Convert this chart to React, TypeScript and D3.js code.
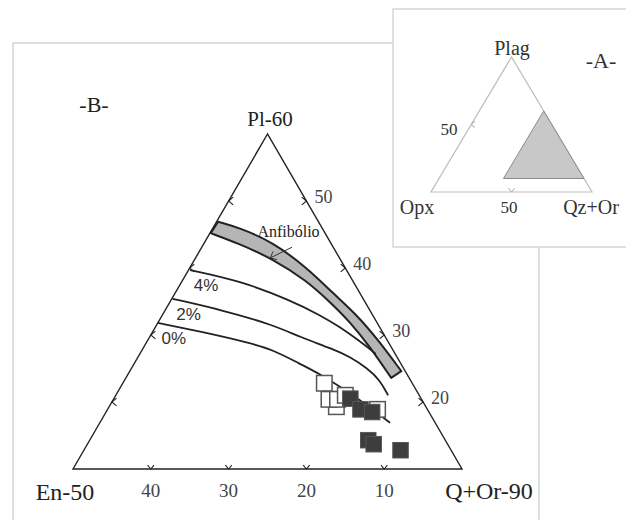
import * as d3 from 'd3';

// Ternary points as [Pl, En]; Q+Or = 100 - Pl - En
const bandUpper: [number, number][] = [
  [46.9, 12.9], [46.0, 10.6], [43.9, 7.4], [40.0, 4.9], [36.3, 3.5], [33.0, 2.0], [29.0, 1.1], [24.6, 0.5],
];
const bandLower: [number, number][] = [
  [45.2, 14.7], [43.6, 11.8], [41.3, 8.6], [38.1, 5.9], [34.9, 4.5], [31.9, 3.4], [28.2, 2.7], [23.6, 2.3],
];
const curve4: [number, number][] = [
  [39.7, 20.1], [38.1, 14.5], [35.2, 9.5], [33.0, 6.8], [31.2, 5.1], [29.1, 3.6], [27.2, 2.5],
];
const curve2: [number, number][] = [
  [35.4, 24.5], [33.7, 18.9], [31.5, 13.5], [29.7, 11.0], [27.9, 7.6], [26.7, 6.0], [25.1, 4.7], [23.3, 3.9], [21.0, 4.0],
];
const curve0: [number, number][] = [
  [31.8, 28.2], [30.3, 22.6], [28.8, 17.9], [27.8, 15.4], [25.7, 13.0], [24.2, 11.2], [22.1, 9.4], [20.3, 8.0], [18.7, 6.9], [16.9, 5.8],
];
const curveNames = ['4%', '2%', '0%'];
const openSamples: [number, number][] = [
  [19.3, 11.5], [22.8, 11.3], [20.4, 11.9], [20.4, 10.8], [21.0, 9.5], [18.9, 6.4],
];
const filledSamples: [number, number][] = [
  [20.5, 9.1], [18.9, 8.6], [18.5, 7.3], [14.3, 9.9], [13.7, 9.5], [12.8, 6.5],
];
const enTicks = [40, 30, 20, 10];
const plTicks = [50, 40, 30, 20];
const anfLabel: [number, number] = [45.4, 4.6];
const anfArrow: [number, number][] = [[43.1, 5.3], [41.5, 8.9]];

// inset: [Plag, Opx]
const insetField: [number, number][] = [[60, 0], [10, 50], [10, 0]];
const insetTicks: [number, number][] = [[50, 50], [0, 50]];

const serif = { fontFamily: "'Liberation Serif', 'Times New Roman', Times, serif" };
const sans = { fontFamily: "'Liberation Sans', Arial, Helvetica, sans-serif" };

const x = d3.scaleLinear().domain([0, 1]).range([73, 462]);
const y = d3.scaleLinear().domain([0, 1]).range([469, 134]);
const proj = ([pl, en]: [number, number]): [number, number] => {
  const t = (pl - 10) / 50;
  const e = en / 50;
  return [x(1 - e - t / 2), y(t)];
};

const xi = d3.scaleLinear().domain([0, 1]).range([431, 592]);
const yi = d3.scaleLinear().domain([0, 1]).range([192, 57]);
const projI = ([pl, en]: [number, number]): [number, number] => {
  const t = pl / 100;
  const e = en / 100;
  return [xi(1 - e - t / 2), yi(t)];
};

const chevron = (p: [number, number], dx: number, dy: number, len = 6) => {
  const a = (40 * Math.PI) / 180;
  const bx = -dx, by = -dy;
  const r = (ang: number) => [
    p[0] + len * (bx * Math.cos(ang) - by * Math.sin(ang)),
    p[1] + len * (bx * Math.sin(ang) + by * Math.cos(ang)),
  ];
  const a1 = r(a), a2 = r(-a);
  return `M${a1[0]},${a1[1]}L${p[0]},${p[1]}L${a2[0]},${a2[1]}`;
};

const smooth = d3.line<[number, number]>().curve(d3.curveBasis);

export default function App() {
  const upperPts = bandUpper.map(proj);
  const lowerPts = bandLower.map(proj).reverse();
  const bandPath = (smooth(upperPts) as string) + (smooth(lowerPts) as string).replace(/^M/, 'L') + 'Z';
  const curves = [curve4, curve2, curve0];
  const tri = [proj([60, 0]), proj([10, 50]), proj([10, 0])];
  const triI = [projI([100, 0]), projI([0, 100]), projI([0, 0])];
  const sq = 15.5;
  const anfL = proj(anfLabel);
  const arr = anfArrow.map(proj);
  const adx = arr[1][0] - arr[0][0], ady = arr[1][1] - arr[0][1];
  const alen = Math.hypot(adx, ady);

  return (
    <svg width={626} height={520} style={{ position: 'absolute', left: 0, top: 0, background: '#fff' }}>
      <rect x={13} y={43} width={526} height={520} fill="none" stroke="#d0d0d0" strokeWidth={1.3} />

      <text x={94} y={112} style={serif} fontSize={22} fill="#222" textAnchor="middle">-B-</text>

      {/* main triangle */}
      <path d={`M${tri.map((p) => p.join(',')).join('L')}Z`} fill="none" stroke="#222" strokeWidth={1.4} />

      {/* ticks */}
      {plTicks.map((v) => {
        const pl = proj([v, 60 - v]);
        const pr = proj([v, 0]);
        return (
          <g key={`t${v}`}>
            <path d={chevron(pl, -1, 0)} fill="none" stroke="#222" strokeWidth={1.1} />
            <path d={chevron(pr, 1, 0)} fill="none" stroke="#222" strokeWidth={1.1} />
            <text x={pr[0] + 8} y={pr[1] + 2} style={serif} fontSize={18} fill="#444">{v}</text>
          </g>
        );
      })}
      {enTicks.map((v) => {
        const p = proj([10, v]);
        return (
          <g key={`e${v}`}>
            <path d={chevron(p, 0, 1, 5)} fill="none" stroke="#222" strokeWidth={1.1} />
            <text x={p[0]} y={p[1] + 28} style={serif} fontSize={19} fill="#444" textAnchor="middle">{v}</text>
          </g>
        );
      })}

      {/* amphibole band */}
      <path d={bandPath} fill="#b5b5b5" stroke="#222" strokeWidth={2} strokeLinejoin="round" />

      {/* isopleths */}
      {curves.map((c, i) => {
        const s = proj(c[0]);
        return (
          <g key={curveNames[i]}>
            <path d={smooth(c.map(proj)) as string} fill="none" stroke="#222" strokeWidth={1.8} />
            <text x={s[0] + 16} y={s[1] + 21} style={sans} fontSize={17} fill="#333" textAnchor="middle">{curveNames[i]}</text>
          </g>
        );
      })}

      <text x={anfL[0]} y={anfL[1] + 5} style={serif} fontSize={16} fill="#222" textAnchor="middle">Anfibólio</text>
      <line x1={arr[0][0]} y1={arr[0][1]} x2={arr[1][0]} y2={arr[1][1]} stroke="#333" strokeWidth={1} />
      <path d={chevron(arr[1], adx / alen, ady / alen, 7)} fill="none" stroke="#333" strokeWidth={1} />

      {/* samples */}
      {openSamples.map((d, i) => {
        const [px, py] = proj(d);
        return <rect key={`o${i}`} x={px - sq / 2} y={py - sq / 2} width={sq} height={sq} fill="#fff" stroke="#555" strokeWidth={1.5} />;
      })}
      {filledSamples.map((d, i) => {
        const [px, py] = proj(d);
        return <rect key={`f${i}`} x={px - sq / 2} y={py - sq / 2} width={sq} height={sq} fill="#3d3d3d" stroke="#555" strokeWidth={1} />;
      })}

      <text x={270} y={126} style={serif} fontSize={21} fill="#222" textAnchor="middle">Pl-60</text>
      <text x={65} y={500} style={serif} fontSize={24} fill="#222" textAnchor="middle">En-50</text>
      <text x={489} y={499} style={serif} fontSize={24} fill="#222" textAnchor="middle">Q+Or-90</text>

      {/* inset -A- */}
      <rect x={393} y={9} width={260} height={238} fill="#fff" stroke="#d0d0d0" strokeWidth={1.3} />
      <path d={`M${triI.map((p) => p.join(',')).join('L')}Z`} fill="none" stroke="#bdbdbd" strokeWidth={1.2} />
      <path d={`M${insetField.map(projI).map((p) => p.join(',')).join('L')}Z`} fill="#c8c8c8" stroke="#8a8a8a" strokeWidth={1} />
      <path d={chevron(projI(insetTicks[0]), -1, 0, 5)} fill="none" stroke="#aaa" strokeWidth={1} />
      <path d={chevron(projI(insetTicks[1]), 0, 1, 5)} fill="none" stroke="#aaa" strokeWidth={1} />
      <text x={449} y={135} style={serif} fontSize={17} fill="#333" textAnchor="middle">50</text>
      <text x={509} y={213} style={serif} fontSize={17} fill="#333" textAnchor="middle">50</text>
      <text x={512} y={55} style={serif} fontSize={20} fill="#333" textAnchor="middle">Plag</text>
      <text x={601} y={68} style={serif} fontSize={22} fill="#333" textAnchor="middle">-A-</text>
      <text x={417} y={214} style={serif} fontSize={20} fill="#333" textAnchor="middle">Opx</text>
      <text x={591} y={214} style={serif} fontSize={20} fill="#333" textAnchor="middle">Qz+Or</text>
    </svg>
  );
}
